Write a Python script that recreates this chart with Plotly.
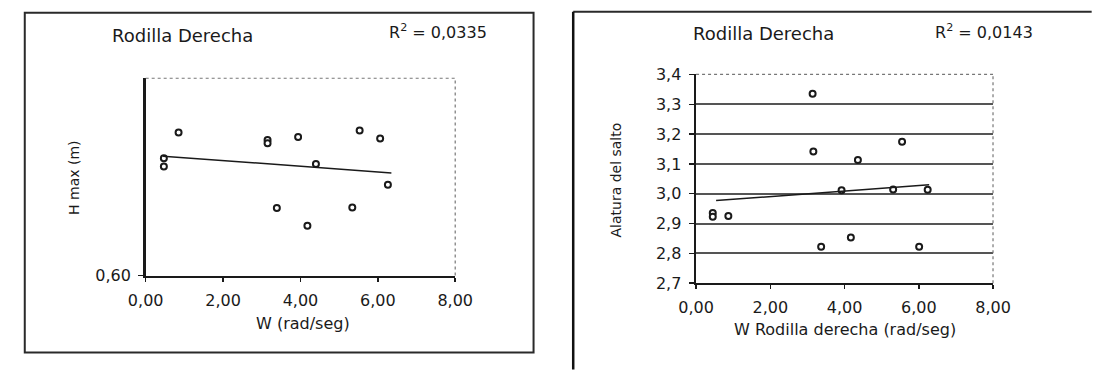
import plotly.graph_objects as go

# ---- data ----
left_w = [0.47, 0.47, 0.85, 3.15, 3.15, 3.94, 4.40, 5.53, 6.06, 6.26, 3.39, 5.34, 4.18]
left_h = [0.838, 0.821, 0.890, 0.875, 0.868, 0.881, 0.826, 0.894, 0.878, 0.784, 0.737, 0.738, 0.701]
left_trend_w = [0.45, 6.35]
left_trend_h = [0.842, 0.808]
left_r2 = "0,0335"

right_w = [0.45, 0.45, 0.87, 3.14, 3.16, 3.37, 3.92, 4.17, 4.36, 5.31, 5.55, 6.01, 6.24]
right_h = [2.935, 2.923, 2.925, 3.335, 3.142, 2.822, 3.012, 2.853, 3.113, 3.014, 3.174, 2.822, 3.013]
right_trend_w = [0.54, 6.28]
right_trend_h = [2.977, 3.030]
right_r2 = "0,0143"

x_ticks = [0, 2, 4, 6, 8]
x_tick_text = ["0,00", "2,00", "4,00", "6,00", "8,00"]
left_y_ticks = [0.60]
left_y_tick_text = ["0,60"]
right_y_ticks = [2.7, 2.8, 2.9, 3.0, 3.1, 3.2, 3.3, 3.4]
right_y_tick_text = ["2,7", "2,8", "2,9", "3,0", "3,1", "3,2", "3,3", "3,4"]

title_text = "Rodilla Derecha"
left_x_title = "W (rad/seg)"
left_y_title = "H max (m)"
right_x_title = "W Rodilla derecha (rad/seg)"
right_y_title = "Alatura del salto"

# ---- layout helpers ----
W, H = 1100, 370
FONT = "DejaVu Sans"
INK = "#1a1a1a"


def px(x):
    return x / W


def py(y):
    return 1 - y / H


fig = go.Figure()

marker = dict(size=6, color="white", line=dict(color=INK, width=2), symbol="circle")

fig.add_trace(go.Scatter(x=left_w, y=left_h, mode="markers", marker=marker,
                         xaxis="x", yaxis="y", showlegend=False))
fig.add_trace(go.Scatter(x=left_trend_w, y=left_trend_h, mode="lines",
                         line=dict(color=INK, width=1.5), xaxis="x", yaxis="y", showlegend=False))
fig.add_trace(go.Scatter(x=right_w, y=right_h, mode="markers", marker=marker,
                         xaxis="x2", yaxis="y2", showlegend=False))
fig.add_trace(go.Scatter(x=right_trend_w, y=right_trend_h, mode="lines",
                         line=dict(color=INK, width=1.5), xaxis="x2", yaxis="y2", showlegend=False))

tickfont = dict(family=FONT, size=16, color=INK)

common_x = dict(range=[0, 8], tickvals=x_ticks, ticktext=x_tick_text, showgrid=False,
                zeroline=False, showline=True, linecolor=INK, linewidth=2,
                ticks="outside", ticklen=4, tickwidth=1.5, tickcolor=INK,
                tickfont=tickfont, ticklabelstandoff=5, fixedrange=True)

fig.update_layout(
    width=W, height=H,
    margin=dict(l=0, r=0, t=0, b=0),
    paper_bgcolor="white", plot_bgcolor="white",
    hovermode=False,
    xaxis=dict(domain=[px(132), px(452)], anchor="y", **common_x),
    yaxis=dict(domain=[py(281), py(73)], anchor="x", range=[0.6, 1.0],
               tickvals=left_y_ticks, ticktext=left_y_tick_text, showgrid=False,
               zeroline=False, showline=True, linecolor=INK, linewidth=2.5,
               ticks="outside", ticklen=5, tickwidth=1.5, tickcolor=INK,
               tickfont=tickfont, ticklabelstandoff=4, fixedrange=True),
    xaxis2=dict(domain=[px(701), px(1008)], anchor="y2", **common_x),
    yaxis2=dict(domain=[py(289), py(69)], anchor="x2", range=[2.7, 3.4],
                tickvals=right_y_ticks, ticktext=right_y_tick_text,
                showgrid=True, gridcolor="#555555", gridwidth=2,
                zeroline=False, showline=True, linecolor=INK, linewidth=2.5,
                ticks="outside", ticklen=5, tickwidth=1.5, tickcolor=INK,
                tickfont=tickfont, ticklabelstandoff=4, fixedrange=True),
)

shapes = []
# panel frames
shapes.append(dict(type="rect", xref="paper", yref="paper",
                   x0=px(7), x1=px(533), y0=py(362), y1=py(4),
                   line=dict(color="#2a2a2a", width=2), layer="below"))
shapes.append(dict(type="line", xref="paper", yref="paper",
                   x0=px(574), x1=px(1110), y0=py(3), y1=py(3),
                   line=dict(color="#2a2a2a", width=2)))
shapes.append(dict(type="line", xref="paper", yref="paper",
                   x0=px(574), x1=px(574), y0=py(3), y1=py(380),
                   line=dict(color="#111111", width=2.5)))
# dotted top / right plot borders
for (xa, ya) in (("x", "y"), ("x2", "y2")):
    shapes.append(dict(type="line", xref=f"{xa} domain", yref=f"{ya} domain",
                       x0=0, x1=1, y0=1, y1=1, line=dict(color="#777777", width=1.2, dash="dot")))
    shapes.append(dict(type="line", xref=f"{xa} domain", yref=f"{ya} domain",
                       x0=1, x1=1, y0=0, y1=1, line=dict(color="#777777", width=1.2, dash="dot")))
fig.update_layout(shapes=shapes)


def ann(text, x, y, size, angle=0):
    return dict(text=text, x=px(x), y=py(y), xref="paper", yref="paper",
                xanchor="center", yanchor="middle", showarrow=False, textangle=angle,
                font=dict(family=FONT, size=size, color=INK))


fig.update_layout(annotations=[
    ann(title_text, 170, 28, 18),
    ann("R<sup>2</sup> = " + left_r2, 434, 24, 16),
    ann(title_text, 771, 26, 18),
    ann("R<sup>2</sup> = " + right_r2, 999, 24, 16),
    ann(left_y_title, 58, 178, 14, -90),
    ann(left_x_title, 295, 332, 16),
    ann(right_y_title, 618, 180, 14, -90),
    ann(right_x_title, 855, 338, 16),
])

fig.write_html("out.html", config={"displayModeBar": False, "staticPlot": True},
               post_script="document.body.style.margin='0';document.body.style.overflow='hidden';")
